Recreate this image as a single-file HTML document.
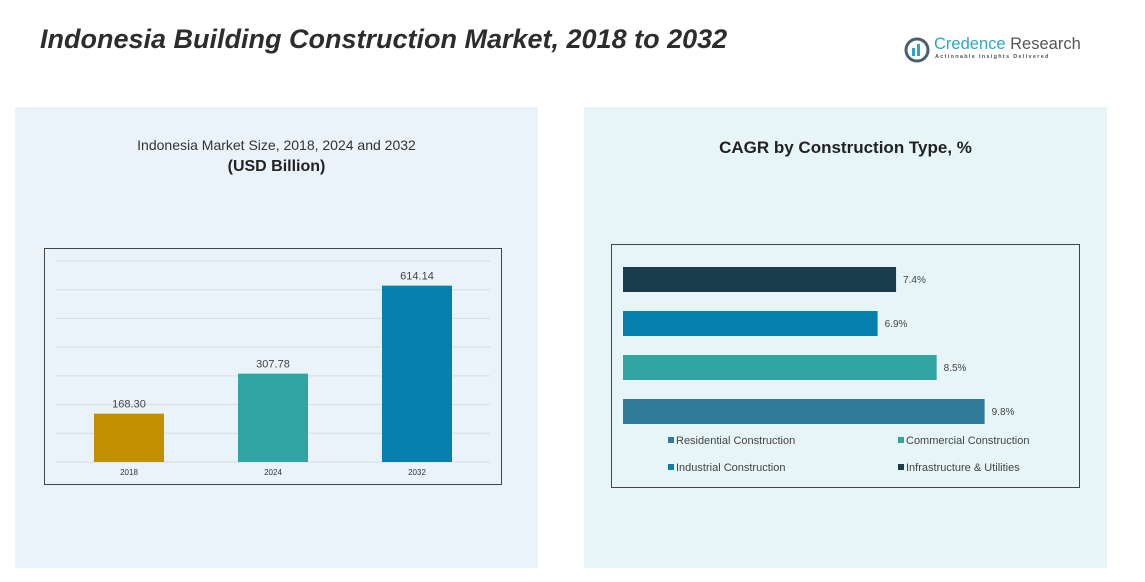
<!DOCTYPE html>
<html><head><meta charset="utf-8"><style>
body{margin:0;width:1145px;height:582px;background:#fff;font-family:"Liberation Sans",sans-serif;position:relative;overflow:hidden}
.abs{position:absolute}
</style></head><body>
<div class="abs" style="left:40px;top:24px;font-size:27px;font-weight:bold;font-style:italic;color:#2d2d2d">Indonesia Building Construction Market, 2018 to 2032</div>
<div class="abs" style="left:903px;top:35px;width:180px;height:32px">
<svg width="28" height="28" style="position:absolute;left:0;top:1px"><circle cx="14" cy="14" r="11" fill="none" stroke="#4a6070" stroke-width="3"/><rect x="9" y="12" width="3" height="8" fill="#2aa8c8"/><rect x="14" y="8" width="3" height="12" fill="#2aa8c8"/></svg>
<div class="abs" style="left:31px;top:0;font-size:16.5px;color:#2aa8c8;white-space:nowrap">Credence <span style="color:#555">Research</span></div>
<div class="abs" style="left:32px;top:19px;font-size:5.5px;letter-spacing:1.3px;color:#555;white-space:nowrap;font-weight:bold">Actionable Insights Delivered</div>
</div>
<div class="abs" style="left:15px;top:107px;width:523px;height:461px;background:#eaf3f9"></div>
<div class="abs" style="left:584px;top:107px;width:523px;height:461px;background:#e7f5f6"></div>
<div class="abs" style="left:15px;width:523px;top:137px;text-align:center;font-size:14px;color:#333">Indonesia Market Size, 2018, 2024 and 2032</div>
<div class="abs" style="left:15px;width:523px;top:158px;text-align:center;font-size:16px;font-weight:bold;color:#222">(USD Billion)</div>
<div class="abs" style="left:584px;width:523px;top:138px;text-align:center;font-size:17px;font-weight:bold;color:#222">CAGR by Construction Type, %</div>
<svg class="abs" style="left:0;top:0" width="1145" height="582" id="svg">
<rect x="44.5" y="248.5" width="457" height="236" fill="none" stroke="#444"/>
<rect x="611.5" y="244.5" width="468" height="243" fill="none" stroke="#444"/>
</svg>
<script>
const years=["2018","2024","2032"];
const sizes=[168.30,307.78,614.14];
const barColors=["#c09000","#33a4a4","#0780b0"];
const types=["Infrastructure & Utilities","Industrial Construction","Commercial Construction","Residential Construction"];
const cagr=[7.4,6.9,8.5,9.8];
const typeColors=["#1a3d4d","#0780b0","#33a4a4","#2e7a99"];
const legendOrder=["Residential Construction","Commercial Construction","Industrial Construction","Infrastructure & Utilities"];
const legendColors=["#2e7a99","#33a4a4","#0780b0","#1a3d4d"];
const svg=document.getElementById('svg');const NS="http://www.w3.org/2000/svg";
function mk(t,a){const e=document.createElementNS(NS,t);for(const k in a)e.setAttribute(k,a[k]);svg.appendChild(e);return e;}
const y=v=>462-v*(201/700);
for(let g=0;g<=700;g+=100){const l=mk('line',{x1:56,x2:490,y1:y(g),y2:y(g),stroke:'#d6dde2','stroke-width':1});

}
years.forEach((yr,i)=>{const cx=129+i*144;
const r=mk('rect',{x:cx-35,y:y(sizes[i]),width:70,height:462-y(sizes[i]),fill:barColors[i]});


const t=mk('text',{x:cx,y:y(sizes[i])-6,'text-anchor':'middle','font-size':11,fill:'#444'});t.textContent=sizes[i].toFixed(2);


const xl=mk('text',{x:cx,y:475,'text-anchor':'middle','font-size':8,fill:'#333'});xl.textContent=yr;

});
const xs=v=>623+v*36.9;
types.forEach((tp,i)=>{const top=267+i*44;
const r=mk('rect',{x:623,y:top,width:xs(cagr[i])-623,height:25,fill:typeColors[i]});


const t=mk('text',{x:xs(cagr[i])+7,y:top+16,'font-size':10,fill:'#444'});t.textContent=cagr[i]+'%';

});
legendOrder.forEach((n,i)=>{const lx=i%2?898:668,ly=i<2?444:471;
const s=mk('rect',{x:lx,y:ly-7,width:6,height:6,fill:legendColors[i]});


const t=mk('text',{x:lx+8,y:ly,'font-size':11,fill:'#444'});t.textContent=n;

});
</script>
</body></html>
